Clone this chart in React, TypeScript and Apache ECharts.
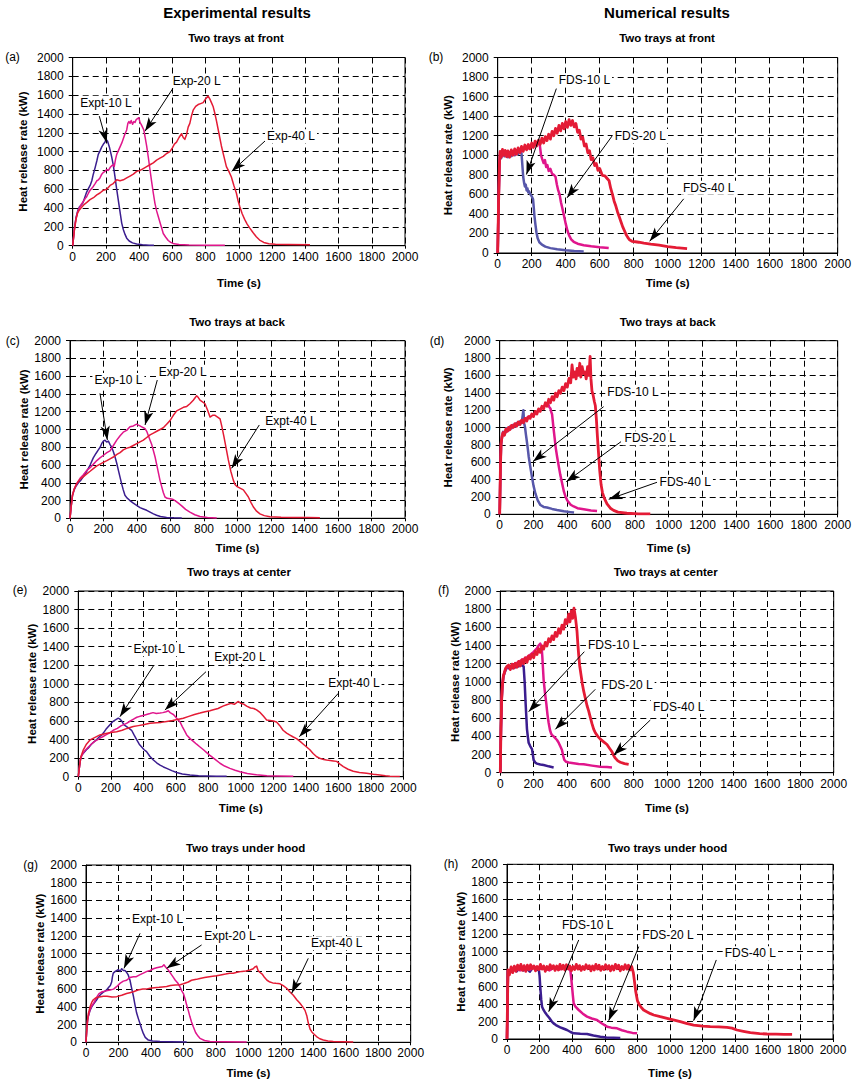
import React, { useEffect, useRef } from "react";
import * as echarts from "echarts";

type Pt = [number, number];

const FONT = "'Liberation Sans', Arial, Helvetica, sans-serif";
const C10 = "#3b1d8f";
const C10F = "#5757aa";
const C20 = "#e0168c";
const C40 = "#e41b35";

const timeTicks = [0, 200, 400, 600, 800, 1000, 1200, 1400, 1600, 1800, 2000];
const hrrTicks = [0, 200, 400, 600, 800, 1000, 1200, 1400, 1600, 1800, 2000];

// ---- (a) two trays at front, experiment ----
const aExp10: Pt[] = [[0,0],[10,180],[20,300],[30,370],[40,410],[50,430],[60,450],[70,500],[84,570],[95,610],[105,640],[115,690],[124,760],[135,830],[145,900],[154,970],[165,1010],[175,1050],[185,1080],[194,1100],[200,1130],[210,1110],[222,1040],[234,950],[244,860],[254,740],[264,610],[274,490],[284,370],[295,240],[305,170],[315,120],[325,80],[340,50],[360,30],[385,18],[420,10],[460,6],[489,5]];
const aExp20: Pt[] = [[0,0],[10,170],[20,290],[30,360],[40,400],[52,440],[64,470],[75,500],[84,520],[95,560],[105,590],[115,610],[124,630],[135,660],[145,690],[155,700],[164,720],[175,760],[185,780],[195,790],[204,810],[215,800],[225,830],[235,850],[244,860],[250,840],[258,920],[265,970],[275,1010],[285,1050],[295,1090],[305,1140],[315,1190],[325,1230],[332,1300],[338,1320],[345,1300],[352,1330],[360,1290],[368,1320],[375,1310],[382,1340],[390,1350],[398,1360],[405,1310],[412,1290],[420,1260],[428,1230],[436,1150],[445,1060],[455,940],[465,810],[475,680],[485,560],[495,450],[505,370],[515,310],[525,250],[535,190],[545,130],[560,90],[575,55],[590,35],[610,20],[640,12],[700,8],[800,6],[916,5]];
const aExp40: Pt[] = [[0,0],[10,160],[20,280],[30,350],[40,380],[55,410],[70,440],[85,460],[104,490],[125,510],[145,540],[164,560],[185,590],[205,600],[225,640],[244,660],[265,700],[285,690],[305,700],[325,720],[345,740],[365,760],[385,790],[405,800],[425,820],[445,840],[465,860],[485,880],[505,910],[525,930],[545,950],[565,980],[585,1000],[600,1040],[612,1080],[625,1100],[640,1150],[655,1190],[665,1150],[675,1130],[685,1180],[695,1260],[705,1300],[715,1380],[725,1440],[740,1480],[755,1500],[770,1510],[785,1520],[800,1560],[815,1590],[825,1560],[835,1520],[845,1480],[855,1410],[865,1330],[875,1240],[885,1150],[895,1060],[910,950],[925,840],[940,790],[955,730],[970,640],[985,560],[995,480],[1005,420],[1020,340],[1035,280],[1050,230],[1065,190],[1085,140],[1105,95],[1125,60],[1150,35],[1180,20],[1220,15],[1300,12],[1428,10]];

// ---- (b) two trays at front, FDS ----
const bFds10: Pt[] = [[0,0],[5,500],[10,900],[14,1030],[20,970],[30,1040],[40,990],[50,1030],[60,980],[70,1030],[80,990],[90,1040],[100,1000],[110,1040],[120,1010],[130,1050],[140,1020],[145,900],[150,780],[155,720],[160,680],[165,700],[170,640],[175,660],[180,620],[185,630],[192,600],[200,580],[208,550],[212,470],[216,380],[222,290],[228,210],[235,150],[245,110],[260,85],[280,65],[310,50],[350,38],[400,28],[450,20],[506,15]];
const bFds20: Pt[] = [[0,0],[5,480],[10,890],[15,1020],[25,990],[40,1040],[60,1000],[80,1040],[100,1010],[120,1050],[140,1040],[160,1080],[180,1070],[200,1100],[220,1110],[240,1130],[248,1100],[255,1000],[262,960],[270,920],[278,950],[285,880],[292,900],[300,840],[310,860],[320,810],[330,800],[340,780],[348,700],[356,640],[364,600],[372,520],[380,460],[390,380],[400,300],[410,230],[420,180],[432,140],[447,115],[470,95],[506,80],[550,68],[600,58],[653,50]];
const bFds40: Pt[] = [[0,0],[5,500],[10,900],[14,1040],[20,980],[28,1060],[36,1000],[44,1050],[52,985],[60,1045],[70,980],[80,1055],[90,1000],[100,1065],[110,1010],[120,1075],[130,1025],[140,1090],[150,1040],[160,1105],[170,1055],[180,1110],[190,1065],[200,1125],[210,1080],[220,1145],[230,1095],[240,1155],[250,1110],[260,1175],[270,1125],[280,1190],[290,1150],[300,1215],[310,1165],[320,1245],[330,1200],[340,1275],[350,1225],[360,1305],[370,1250],[380,1325],[390,1270],[400,1345],[410,1285],[420,1365],[430,1305],[440,1355],[450,1290],[460,1325],[470,1235],[480,1255],[490,1165],[500,1185],[510,1095],[520,1115],[530,1025],[540,1045],[550,955],[560,975],[570,895],[580,915],[590,845],[600,865],[615,795],[630,790],[645,760],[655,740],[665,660],[675,600],[685,530],[695,480],[705,420],[715,370],[725,320],[735,270],[745,230],[755,190],[765,160],[775,135],[790,120],[810,115],[830,110],[860,100],[900,90],[950,80],[1000,65],[1050,55],[1114,45]];

// ---- (c) two trays at back, experiment ----
const cExp10: Pt[] = [[0,0],[8,150],[15,260],[25,320],[35,360],[50,400],[65,430],[80,470],[100,530],[120,600],[139,680],[155,730],[169,770],[180,800],[189,840],[199,870],[209,880],[219,860],[229,870],[239,830],[249,800],[259,750],[269,690],[279,620],[289,540],[299,460],[308,390],[318,320],[328,260],[340,230],[358,200],[378,170],[398,145],[418,120],[438,105],[458,90],[478,70],[498,50],[517,35],[540,20],[577,10],[620,5],[667,3]];
const cExp20: Pt[] = [[0,0],[8,150],[15,260],[25,330],[40,390],[60,450],[80,490],[100,540],[120,570],[140,610],[160,650],[179,680],[200,710],[220,740],[239,760],[259,820],[279,880],[299,930],[318,970],[338,990],[358,1030],[378,1040],[398,1060],[408,1050],[418,1040],[428,1030],[438,1020],[448,1010],[458,980],[468,930],[478,880],[488,830],[498,760],[508,690],[517,610],[527,520],[537,430],[547,360],[557,290],[567,240],[580,225],[597,220],[612,215],[627,200],[647,170],[667,140],[690,100],[716,70],[745,40],[776,20],[820,8],[876,4]];
const cExp40: Pt[] = [[0,0],[8,150],[15,260],[25,330],[40,390],[60,440],[80,470],[100,500],[120,530],[139,560],[160,590],[180,610],[199,630],[220,650],[239,670],[259,690],[280,720],[299,740],[318,770],[340,790],[358,800],[378,820],[398,840],[418,860],[438,880],[458,910],[478,940],[498,960],[518,980],[538,1000],[557,1020],[577,1060],[597,1100],[617,1160],[637,1210],[657,1230],[677,1250],[697,1260],[716,1290],[736,1330],[756,1380],[766,1360],[776,1330],[791,1310],[806,1290],[821,1220],[836,1140],[851,1160],[866,1160],[881,1140],[896,1120],[907,1030],[919,920],[932,790],[945,660],[960,530],[975,430],[985,380],[995,360],[1015,340],[1035,320],[1050,280],[1065,240],[1080,180],[1094,130],[1114,80],[1134,50],[1160,30],[1194,18],[1260,12],[1333,10],[1420,8],[1492,7]];

// ---- (d) two trays at back, FDS ----
const dFds10: Pt[] = [[0,0],[4,480],[8,800],[14,890],[20,950],[30,920],[40,990],[50,970],[60,1010],[70,990],[80,1030],[90,1010],[100,1050],[110,1030],[120,1070],[130,1050],[140,1200],[145,1050],[150,1000],[155,920],[160,850],[166,760],[172,660],[180,560],[191,430],[200,330],[211,240],[225,160],[241,107],[260,85],[280,78],[310,62],[339,50],[380,35],[418,25],[440,20]];
const dFds20: Pt[] = [[0,0],[4,490],[8,810],[14,900],[20,940],[30,930],[40,980],[50,960],[60,1000],[80,1010],[100,1040],[120,1060],[140,1080],[160,1110],[180,1130],[200,1150],[220,1180],[240,1210],[260,1240],[275,1270],[285,1290],[292,1240],[300,1220],[305,1180],[310,1150],[318,1000],[325,880],[332,760],[340,660],[349,560],[358,460],[369,360],[380,260],[390,200],[400,160],[420,110],[438,90],[460,70],[497,58],[540,45],[576,38]];
const dFds40: Pt[] = [[0,0],[4,500],[8,820],[14,900],[20,940],[28,910],[36,980],[44,955],[52,1000],[60,975],[70,1025],[80,1000],[90,1045],[100,1015],[110,1065],[120,1035],[130,1085],[140,1055],[150,1105],[160,1075],[170,1125],[180,1105],[190,1155],[200,1125],[210,1185],[220,1155],[230,1215],[240,1185],[250,1245],[260,1215],[270,1285],[280,1245],[290,1325],[300,1285],[310,1355],[320,1315],[330,1395],[340,1355],[350,1425],[360,1395],[370,1465],[380,1425],[390,1505],[400,1465],[410,1565],[420,1515],[428,1720],[436,1580],[445,1640],[452,1560],[458,1680],[466,1600],[474,1740],[480,1580],[488,1700],[496,1620],[504,1640],[512,1560],[520,1700],[528,1600],[535,1820],[540,1560],[546,1420],[552,1380],[560,1300],[566,1250],[572,1100],[578,900],[585,700],[592,500],[600,340],[608,250],[620,180],[635,120],[655,70],[674,45],[700,25],[753,12],[820,6],[891,4]];

// ---- (e) two trays at center, experiment ----
const eExp10: Pt[] = [[0,0],[8,120],[15,200],[21,230],[35,260],[50,290],[62,310],[80,350],[100,380],[113,400],[130,430],[145,450],[154,470],[170,510],[185,540],[195,560],[210,590],[226,610],[236,620],[246,630],[256,620],[267,600],[280,560],[297,540],[312,520],[328,500],[343,450],[359,400],[375,350],[390,320],[405,290],[420,270],[440,220],[462,180],[482,150],[503,125],[524,105],[544,90],[575,65],[605,45],[640,30],[687,18],[740,10],[790,7],[850,5],[913,4]];
const eExp20: Pt[] = [[0,0],[8,120],[15,200],[25,240],[40,280],[62,320],[80,350],[100,380],[120,400],[133,415],[150,430],[170,450],[190,470],[215,500],[240,520],[265,550],[297,575],[320,600],[340,620],[360,640],[379,650],[400,660],[420,670],[441,680],[460,690],[480,680],[503,685],[520,690],[540,700],[554,710],[565,690],[575,680],[585,670],[595,650],[610,620],[626,590],[640,540],[655,490],[667,450],[688,410],[708,380],[728,350],[749,320],[770,290],[790,260],[810,230],[840,190],[872,145],[900,115],[933,90],[965,70],[995,54],[1040,35],[1097,20],[1160,10],[1220,7],[1323,4]];
const eExp40: Pt[] = [[0,0],[8,120],[15,210],[31,290],[50,350],[72,395],[100,420],[133,450],[170,465],[200,475],[236,485],[270,500],[300,520],[338,540],[370,550],[400,560],[441,575],[480,580],[510,585],[544,595],[580,605],[610,615],[646,630],[680,650],[715,670],[749,685],[780,700],[810,710],[831,720],[860,735],[890,760],[913,775],[940,790],[960,780],[985,810],[1000,790],[1020,780],[1036,760],[1060,740],[1080,735],[1097,720],[1120,690],[1140,650],[1159,610],[1180,605],[1200,600],[1220,590],[1240,550],[1260,500],[1282,470],[1300,450],[1320,430],[1343,410],[1365,380],[1385,350],[1405,320],[1425,290],[1445,250],[1467,215],[1490,195],[1510,185],[1528,180],[1550,175],[1570,170],[1590,165],[1610,135],[1631,108],[1660,80],[1692,58],[1730,45],[1774,36],[1815,26],[1856,18],[1890,10],[1918,5],[1979,2]];

// ---- (f) two trays at center, FDS ----
const fFds10: Pt[] = [[0,0],[4,480],[8,790],[12,940],[18,1050],[24,1090],[32,1130],[40,1160],[50,1150],[60,1170],[70,1150],[80,1180],[90,1160],[100,1190],[110,1170],[120,1200],[130,1180],[140,1170],[146,1000],[152,760],[156,620],[160,480],[165,400],[170,330],[180,290],[190,260],[196,190],[200,140],[210,110],[220,100],[240,90],[260,84],[290,70],[320,58]];
const fFds20: Pt[] = [[0,0],[4,490],[8,800],[12,950],[18,1060],[24,1100],[32,1140],[40,1160],[60,1170],[80,1190],[100,1210],[120,1230],[140,1250],[160,1270],[180,1300],[200,1330],[220,1370],[230,1400],[240,1420],[248,1380],[252,1280],[256,1150],[260,1020],[268,880],[276,760],[283,640],[290,550],[298,470],[305,430],[310,415],[320,400],[330,380],[340,360],[350,330],[360,290],[370,250],[377,190],[384,140],[395,120],[410,112],[440,105],[470,96],[500,92],[550,78],[600,66],[640,62],[670,58]];
const fFds40: Pt[] = [[0,0],[4,500],[8,800],[12,950],[18,1060],[24,1100],[32,1150],[40,1170],[50,1185],[60,1135],[70,1195],[80,1150],[90,1205],[100,1160],[110,1225],[120,1175],[130,1245],[140,1200],[150,1265],[160,1215],[170,1285],[180,1250],[190,1305],[200,1265],[210,1335],[220,1300],[230,1365],[240,1325],[250,1395],[260,1360],[270,1435],[280,1395],[290,1475],[300,1440],[310,1505],[320,1465],[330,1545],[340,1500],[350,1585],[360,1535],[370,1625],[380,1580],[390,1685],[400,1640],[410,1745],[418,1660],[426,1780],[434,1700],[442,1810],[450,1720],[455,1640],[460,1560],[465,1420],[470,1300],[476,1180],[484,1080],[492,980],[500,900],[510,820],[520,740],[530,680],[540,610],[550,540],[560,480],[570,440],[585,400],[600,370],[620,340],[640,310],[655,270],[670,230],[680,190],[690,160],[705,130],[720,115],[745,100],[770,92]];

// ---- (g) two trays under hood, experiment ----
const gExp10: Pt[] = [[0,0],[5,150],[10,250],[14,290],[25,360],[35,400],[50,440],[66,480],[80,520],[96,550],[110,570],[127,590],[140,620],[150,640],[158,680],[163,740],[168,780],[180,800],[190,810],[199,820],[210,800],[220,830],[230,810],[240,810],[250,790],[260,760],[271,700],[280,620],[292,520],[302,420],[312,330],[322,270],[333,210],[343,150],[353,100],[365,55],[384,25],[410,14],[456,8],[520,6],[620,4]];
const gExp20: Pt[] = [[0,0],[5,150],[10,250],[14,290],[25,370],[35,410],[50,450],[66,510],[80,550],[100,570],[125,580],[148,590],[170,600],[190,630],[209,665],[230,690],[250,700],[270,730],[292,740],[310,740],[330,760],[353,780],[375,800],[395,810],[415,830],[435,840],[456,850],[470,855],[480,875],[490,850],[500,830],[507,815],[520,780],[535,740],[550,700],[565,670],[580,620],[590,580],[600,550],[612,480],[620,420],[630,360],[640,290],[650,230],[661,175],[675,110],[690,70],[702,45],[730,20],[764,8],[850,6],[990,4]];
const gExp40: Pt[] = [[0,0],[5,150],[10,260],[14,320],[25,400],[35,450],[45,480],[60,500],[80,510],[107,520],[130,520],[160,510],[189,515],[220,530],[250,550],[270,560],[292,570],[320,590],[350,600],[370,600],[394,610],[420,615],[450,620],[470,625],[497,630],[520,640],[550,645],[580,650],[600,660],[630,680],[650,700],[680,710],[702,720],[730,730],[760,740],[780,745],[805,750],[830,760],[860,770],[885,780],[907,780],[930,790],[960,800],[985,805],[1010,815],[1030,830],[1040,850],[1051,860],[1060,810],[1070,790],[1085,770],[1100,730],[1115,700],[1133,680],[1150,670],[1170,665],[1195,660],[1215,640],[1236,610],[1255,570],[1277,530],[1298,480],[1318,440],[1335,400],[1349,360],[1360,300],[1369,220],[1380,150],[1390,120],[1400,100],[1420,65],[1440,40],[1462,26],[1490,15],[1523,8],[1580,6],[1646,4]];

// ---- (h) two trays under hood, FDS ----
const hFds10: Pt[] = [[0,0],[3,400],[6,780],[20,760],[40,815],[60,775],[80,825],[100,785],[120,810],[140,770],[160,825],[180,790],[195,800],[200,720],[204,600],[210,450],[215,370],[225,330],[235,300],[245,275],[260,240],[275,200],[286,179],[300,160],[315,145],[327,134],[345,120],[368,103],[390,80],[409,65],[450,60],[491,57],[530,40],[573,27],[610,18],[654,15],[695,11]];
const hFds20: Pt[] = [[0,0],[3,400],[6,780],[20,770],[50,805],[80,785],[110,815],[140,795],[170,825],[200,800],[230,810],[260,785],[290,820],[320,795],[350,815],[380,800],[389,780],[394,700],[399,600],[404,500],[409,408],[420,370],[440,332],[465,290],[491,256],[520,235],[552,218],[580,180],[614,141],[640,130],[675,122],[705,100],[736,84],[770,70],[798,65]];
const hFds40: Pt[] = [[0,0],[3,400],[6,790],[15,735],[25,825],[35,760],[45,835],[55,775],[65,845],[75,795],[85,855],[95,785],[105,840],[115,775],[125,845],[135,795],[145,850],[155,805],[165,835],[175,780],[185,830],[195,795],[205,855],[215,800],[225,835],[235,775],[245,830],[255,795],[265,850],[275,805],[285,840],[295,785],[305,835],[315,790],[325,855],[335,800],[345,845],[355,790],[365,850],[375,805],[385,835],[395,780],[405,830],[415,795],[425,855],[435,800],[445,840],[455,785],[465,830],[475,795],[485,850],[495,805],[505,840],[515,780],[525,835],[535,790],[545,855],[555,800],[565,845],[575,785],[585,830],[595,795],[605,850],[615,800],[625,840],[635,780],[645,835],[655,790],[665,855],[675,805],[685,845],[695,780],[705,830],[715,795],[725,850],[735,800],[745,845],[755,790],[765,830],[775,760],[782,660],[790,540],[800,440],[812,390],[825,360],[838,332],[860,310],[880,290],[900,275],[940,255],[982,237],[1020,220],[1063,198],[1100,180],[1145,160],[1200,148],[1247,141],[1300,138],[1350,134],[1380,125],[1411,103],[1450,88],[1493,73],[1550,62],[1595,57],[1650,55],[1700,54],[1749,53]];

// Annotation: text anchor, arrow tail and arrow head, in (time, HRR) units
interface Note { text: string; at: Pt; from: Pt; to: Pt }

const aNotes: Note[] = [
  { text: "Expt-10 L", at: [200, 1520], from: [160, 1377], to: [205, 1093] },
  { text: "Exp-20 L", at: [746, 1751], from: [602, 1669], to: [435, 1217] },
  { text: "Exp-40 L", at: [1314, 1164], from: [1167, 1128], to: [957, 790] },
];
const bNotes: Note[] = [
  { text: "FDS-10 L", at: [510, 1768], from: [345, 1682], to: [169, 803] },
  { text: "FDS-20 L", at: [839, 1197], from: [673, 1197], to: [408, 564] },
  { text: "FDS-40 L", at: [1241, 667], from: [1094, 554], to: [894, 120] },
];
const cNotes: Note[] = [
  { text: "Exp-10 L", at: [289, 1557], from: [179, 1407], to: [223, 882] },
  { text: "Exp-20 L", at: [673, 1651], from: [521, 1557], to: [448, 1051] },
  { text: "Expt-40 L", at: [1319, 1099], from: [1130, 1051], to: [965, 563] },
];
const dNotes: Note[] = [
  { text: "FDS-10 L", at: [789, 1413], from: [615, 1240], to: [197, 607] },
  { text: "FDS-20 L", at: [891, 875], from: [718, 837], to: [394, 376] },
  { text: "FDS-40 L", at: [1098, 376], from: [931, 369], to: [645, 173] },
];
const eNotes: Note[] = [
  { text: "Expt-10 L", at: [498, 1372], from: [466, 1203], to: [256, 646] },
  { text: "Expt-20 L", at: [995, 1293], from: [786, 1131], to: [533, 718] },
  { text: "Expt-40 L", at: [1696, 1005], from: [1600, 898], to: [1360, 431] },
];
const fNotes: Note[] = [
  { text: "FDS-10 L", at: [680, 1406], from: [504, 1332], to: [170, 672] },
  { text: "FDS-20 L", at: [760, 965], from: [570, 918], to: [330, 477] },
  { text: "FDS-40 L", at: [1070, 727], from: [900, 580], to: [680, 195] },
];
const gNotes: Note[] = [
  { text: "Expt-10 L", at: [441, 1391], from: [333, 1229], to: [234, 834] },
  { text: "Expt-20 L", at: [887, 1203], from: [712, 1098], to: [497, 834] },
  { text: "Expt-40 L", at: [1544, 1116], from: [1369, 947], to: [1267, 553] },
];
const hNotes: Note[] = [
  { text: "FDS-10 L", at: [495, 1305], from: [440, 1134], to: [256, 313] },
  { text: "FDS-20 L", at: [988, 1191], from: [808, 1057], to: [624, 210] },
  { text: "FDS-40 L", at: [1493, 981], from: [1284, 905], to: [1145, 210] },
];

interface Panel {
  letter: string;
  title: string;
  box: [number, number, number, number]; // left, top, right, bottom
  letterAt: [number, number];
  titleAt: [number, number];
  xNameGap: number;
  yNameGap: number;
  lines: { data: Pt[]; color: string; width: number }[];
  notes: Note[];
}

const panels: Panel[] = [
  { letter: "(a)", title: "Two trays at front", box: [72.7, 57.5, 405, 245.7], letterAt: [12.5, 57], titleAt: [236, 38.3], xNameGap: 31, yNameGap: 43.5,
    lines: [{ data: aExp10, color: C10, width: 1.5 }, { data: aExp20, color: C20, width: 1.5 }, { data: aExp40, color: C40, width: 1.5 }], notes: aNotes },
  { letter: "(b)", title: "Two trays at front", box: [497.7, 57.5, 837.7, 253], letterAt: [436, 57], titleAt: [667, 38.3], xNameGap: 23.5, yNameGap: 44,
    lines: [{ data: bFds10, color: C10F, width: 2.5 }, { data: bFds20, color: C20, width: 2.5 }, { data: bFds40, color: C40, width: 2.8 }], notes: bNotes },
  { letter: "(c)", title: "Two trays at back", box: [70, 340.7, 405, 518.3], letterAt: [12.7, 340.7], titleAt: [237, 321.7], xNameGap: 23.5, yNameGap: 40.5,
    lines: [{ data: cExp10, color: C10, width: 1.5 }, { data: cExp20, color: C20, width: 1.5 }, { data: cExp40, color: C40, width: 1.5 }], notes: cNotes },
  { letter: "(d)", title: "Two trays at back", box: [499.7, 340.7, 837.7, 514.3], letterAt: [437, 340.7], titleAt: [667.7, 321.7], xNameGap: 27.5, yNameGap: 46,
    lines: [{ data: dFds10, color: C10F, width: 2.5 }, { data: dFds20, color: C20, width: 2.5 }, { data: dFds40, color: C40, width: 2.8 }], notes: dNotes },
  { letter: "(e)", title: "Two trays at center", box: [78.3, 591, 403.3, 776.7], letterAt: [20, 590], titleAt: [239, 571.7], xNameGap: 25, yNameGap: 40.5,
    lines: [{ data: eExp10, color: C10, width: 1.5 }, { data: eExp20, color: C20, width: 1.5 }, { data: eExp40, color: C40, width: 1.5 }], notes: eNotes },
  { letter: "(f)", title: "Two trays at center", box: [500.3, 591, 833.7, 772.7], letterAt: [443.7, 590], titleAt: [665.7, 571.7], xNameGap: 29, yNameGap: 39,
    lines: [{ data: fFds10, color: C10, width: 2.5 }, { data: fFds20, color: C20, width: 2.5 }, { data: fFds40, color: C40, width: 2.8 }], notes: fNotes },
  { letter: "(g)", title: "Two trays under hood", box: [86, 865, 410.7, 1042.3], letterAt: [30.7, 865], titleAt: [245.7, 848.3], xNameGap: 25, yNameGap: 38,
    lines: [{ data: gExp10, color: C10, width: 1.5 }, { data: gExp20, color: C20, width: 1.5 }, { data: gExp40, color: C40, width: 1.5 }], notes: gNotes },
  { letter: "(h)", title: "Two trays under hood", box: [507, 864.3, 833, 1039], letterAt: [451, 864], titleAt: [667.7, 848.3], xNameGap: 28, yNameGap: 39,
    lines: [{ data: hFds10, color: C10, width: 2.5 }, { data: hFds20, color: C20, width: 2.5 }, { data: hFds40, color: C40, width: 2.8 }], notes: hNotes },
];

function text(x: number, y: number, s: string, font: string, extra: any = {}) {
  return {
    type: "text", x, y, z: 100, silent: true,
    style: { text: s, font, fill: "#000", textAlign: "center", textVerticalAlign: "middle", ...extra },
  };
}

function staticGraphic() {
  const g: any[] = [
    text(237, 12.7, "Experimental results", `bold 15px ${FONT}`),
    text(667, 12.7, "Numerical results", `bold 15px ${FONT}`),
  ];
  panels.forEach((p) => {
    g.push(text(p.letterAt[0], p.letterAt[1], p.letter, `12px ${FONT}`));
    g.push(text(p.titleAt[0], p.titleAt[1], p.title, `bold 11.5px ${FONT}`));
  });
  return g;
}

function buildOption() {
  const grid: any[] = [];
  const xAxis: any[] = [];
  const yAxis: any[] = [];
  const series: any[] = [];
  const dash = { color: "#000", type: [6, 4], width: 1 };
  const plain = (v: number) => String(v);

  panels.forEach((p, i) => {
    const [l, t, r, b] = p.box;
    grid.push({ left: l, top: t, width: r - l, height: b - t, show: true, borderColor: "#000", borderWidth: 1, backgroundColor: "transparent", outerBoundsMode: "none" });
    xAxis.push({
      gridIndex: i, type: "value", min: timeTicks[0], max: timeTicks[timeTicks.length - 1], interval: timeTicks[1] - timeTicks[0],
      axisLine: { show: true, onZero: false, lineStyle: { color: "#000", width: 1 } },
      axisTick: { show: true, length: 3, lineStyle: { color: "#000" } },
      axisLabel: { color: "#000", fontFamily: FONT, fontSize: 12, margin: 5, formatter: plain, showMinLabel: true, showMaxLabel: true, hideOverlap: false },
      splitLine: { show: true, lineStyle: dash },
      name: "Time (s)", nameLocation: "middle", nameGap: p.xNameGap,
      nameTextStyle: { color: "#000", fontFamily: FONT, fontSize: 11.5, fontWeight: "bold" },
    });
    yAxis.push({
      gridIndex: i, type: "value", min: hrrTicks[0], max: hrrTicks[hrrTicks.length - 1], interval: hrrTicks[1] - hrrTicks[0],
      axisLine: { show: true, onZero: false, lineStyle: { color: "#000", width: 1 } },
      axisTick: { show: true, length: 4, lineStyle: { color: "#000" } },
      axisLabel: { color: "#000", fontFamily: FONT, fontSize: 12, margin: 9, formatter: plain, showMinLabel: true, showMaxLabel: true },
      splitLine: { show: true, lineStyle: dash },
      name: "Heat release rate (kW)", nameLocation: "middle", nameGap: p.yNameGap,
      nameTextStyle: { color: "#000", fontFamily: FONT, fontSize: 11.5, fontWeight: "bold" },
    });
    p.lines.forEach((ln) => {
      series.push({
        type: "line", xAxisIndex: i, yAxisIndex: i, data: ln.data, showSymbol: false, symbol: "none",
        lineStyle: { color: ln.color, width: ln.width, join: "round" }, itemStyle: { color: ln.color }, silent: true, z: 3,
      });
    });
    // arrows pointing from each label to its curve
    series.push({
      type: "line", xAxisIndex: i, yAxisIndex: i, data: [], silent: true, z: 5,
      markLine: {
        silent: true, symbol: ["none", "arrow"], symbolSize: [7, 14], precision: 4,
        lineStyle: { color: "#000", width: 1, type: "solid" }, label: { show: false },
        data: p.notes.map((n) => [{ coord: n.from }, { coord: n.to }]),
      },
    });
  });

  return { animation: false, backgroundColor: "#fff", grid, xAxis, yAxis, series, graphic: staticGraphic() };
}

export default function App() {
  const ref = useRef<HTMLDivElement>(null);
  useEffect(() => {
    if (!ref.current) return;
    const chart = echarts.init(ref.current, null, { renderer: "svg" });
    chart.setOption(buildOption() as any);
    // place the curve labels through each panel's own axes
    const labels: any[] = [];
    panels.forEach((p, i) => {
      p.notes.forEach((n) => {
        const px = chart.convertToPixel({ gridIndex: i }, n.at) as number[];
        labels.push(text(px[0], px[1], n.text, `12px ${FONT}`, { backgroundColor: "#fff", padding: [1, 2] }));
      });
    });
    chart.setOption({ graphic: [...staticGraphic(), ...labels] } as any);
    return () => chart.dispose();
  }, []);
  return <div ref={ref} style={{ position: "fixed", left: 0, top: 0, width: 854, height: 1082, background: "#fff" }} />;
}
